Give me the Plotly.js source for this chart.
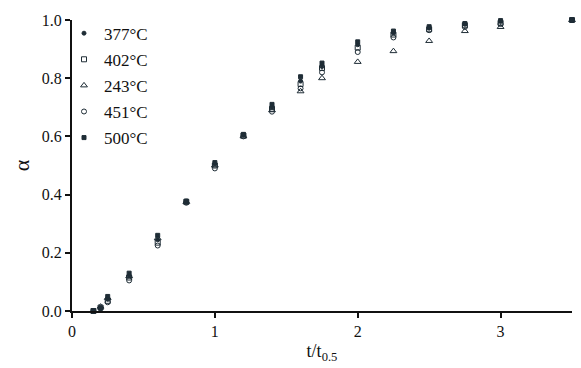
<!DOCTYPE html>
<html>
<head>
<meta charset="utf-8">
<script src="https://cdn.plot.ly/plotly-3.0.1.min.js"></script>
<style>html,body{margin:0;padding:0;background:#fff;}#chart{width:581px;height:368px;}</style>
</head>
<body>
<div id="chart"></div>
<script>
var tRatio = [0.15, 0.2, 0.25, 0.4, 0.6, 0.8, 1.0, 1.2, 1.4, 1.6, 1.75, 2.0, 2.25, 2.5, 2.75, 3.0, 3.5];
var alpha377 = [0.0, 0.01, 0.04, 0.12, 0.245, 0.375, 0.505, 0.605, 0.70, 0.79, 0.84, 0.915, 0.955, 0.972, 0.985, 0.995, 1.0];
var alpha402 = [0.0, 0.012, 0.035, 0.115, 0.235, 0.375, 0.50, 0.603, 0.695, 0.78, 0.835, 0.905, 0.95, 0.968, 0.982, 0.99, 1.0];
var alpha243 = [0.0, 0.015, 0.045, 0.12, 0.25, 0.375, 0.50, 0.60, 0.69, 0.755, 0.80, 0.856, 0.893, 0.928, 0.962, 0.976, 1.0];
var alpha451 = [0.0, 0.01, 0.03, 0.105, 0.225, 0.372, 0.49, 0.60, 0.685, 0.765, 0.82, 0.89, 0.94, 0.965, 0.976, 0.986, 1.0];
var alpha500 = [0.0, 0.01, 0.05, 0.13, 0.26, 0.378, 0.51, 0.607, 0.71, 0.805, 0.852, 0.925, 0.962, 0.977, 0.988, 0.998, 1.0];
var seriesNames = ['377°C', '402°C', '243°C', '451°C', '500°C'];
var xTickVals = [0, 1, 2, 3];
var yTickVals = [0, 0.2, 0.4, 0.6, 0.8, 1.0];

var ink = '#1f2d36';
var serif = '"Liberation Serif", "DejaVu Serif", serif';
var allY = [alpha377, alpha402, alpha243, alpha451, alpha500];
var symbols = ['circle', 'square-open', 'triangle-up-open', 'circle-open', 'square'];
var sizes = [4, 5, 6, 5, 4];

var traces = allY.map(function (ys, i) {
  return {
    x: tRatio, y: ys, name: seriesNames[i], type: 'scatter', mode: 'markers',
    legendgroup: 'g' + i, cliponaxis: false,
    marker: {symbol: symbols[i], size: sizes[i], color: ink, line: {color: ink, width: 1}}
  };
});

var layout = {
  width: 581, height: 368,
  paper_bgcolor: '#fff', plot_bgcolor: '#fff',
  margin: {l: 72, r: 9, t: 20, b: 57},
  font: {family: serif, size: 15, color: '#111'},
  showlegend: true,
  legend: {x: -0.016, y: 1.015, xanchor: 'left', yanchor: 'top', bgcolor: 'rgba(0,0,0,0)',
    font: {family: serif, size: 17, color: '#111'}, traceorder: 'grouped', tracegroupgap: 1,
    itemwidth: 30},
  xaxis: {range: [0, 3.5], tickvals: xTickVals, ticktext: xTickVals.map(String),
    showline: true, linecolor: '#111', linewidth: 2, ticks: 'outside', ticklen: 5,
    tickwidth: 2, tickcolor: '#111', showgrid: false, zeroline: false,
    tickfont: {family: serif, size: 16, color: '#111'},
    title: {text: 't/t<sub>0.5</sub>', font: {family: serif, size: 18, color: '#111'}, standoff: 5}},
  yaxis: {range: [0, 1.0], tickvals: yTickVals, ticktext: yTickVals.map(function (v) { return v.toFixed(1); }),
    showline: true, linecolor: '#111', linewidth: 2, ticks: 'outside', ticklen: 5,
    tickwidth: 2, tickcolor: '#111', showgrid: false, zeroline: false,
    tickfont: {family: serif, size: 16, color: '#111'},
    title: {text: 'α', font: {family: serif, size: 22, color: '#111'}, standoff: 6}}
};

Plotly.newPlot('chart', traces, layout, {displayModeBar: false, staticPlot: true});
</script>
</body>
</html>
